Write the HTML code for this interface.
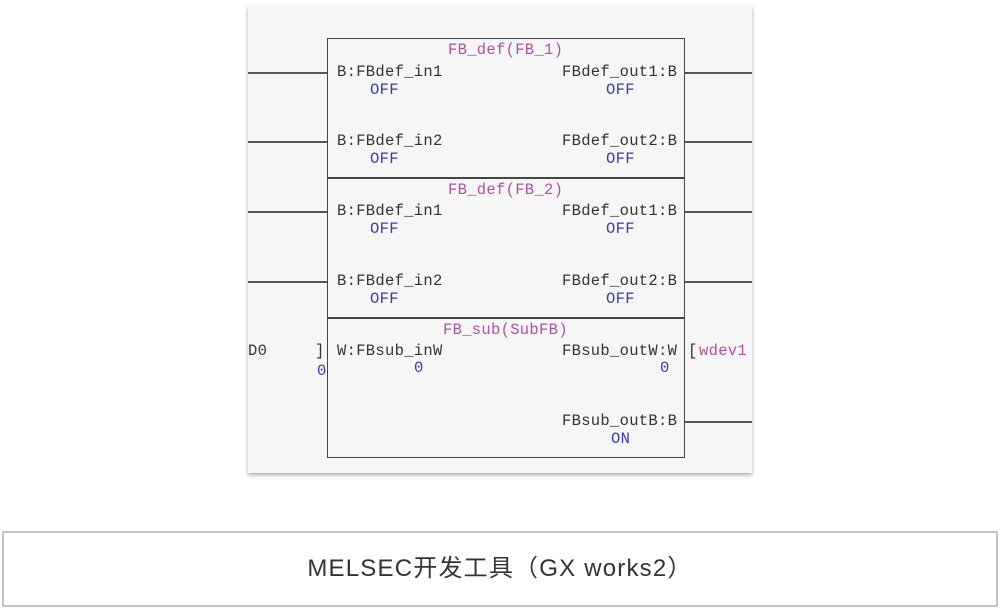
<!DOCTYPE html>
<html><head><meta charset="utf-8"><style>
body{margin:0;width:1000px;height:610px;background:#fff;position:relative;overflow:hidden;font-family:"Liberation Mono",monospace}
.p{position:absolute;left:248px;top:6px;width:504px;height:467px;background:#f6f6f6;box-shadow:0 2px 4px rgba(0,0,0,.35)}
.l{position:absolute;height:1.5px;background:#555}
.b{position:absolute;left:327px;width:358px;border:1.5px solid #444;box-sizing:border-box}
.t{position:absolute;font-size:15.5px;line-height:16px;color:#333;white-space:pre;letter-spacing:0.3px}
.m{color:#b050a0}.v{color:#3a3aa8}
.cap{position:absolute;left:2px;top:531px;width:996px;height:76px;border:2px solid #c4c4c4;box-sizing:border-box;text-align:center;line-height:72px;font-family:"Liberation Sans","Noto Sans CJK SC",sans-serif;font-size:24px;letter-spacing:1.2px;color:#333}
</style></head><body>
<div class="p"></div>
<div class="l" style="left:248px;top:72px;width:79px"></div>
<div class="l" style="left:248px;top:141px;width:79px"></div>
<div class="l" style="left:248px;top:211px;width:79px"></div>
<div class="l" style="left:248px;top:281px;width:79px"></div>
<div class="l" style="left:685px;top:72px;width:67px"></div>
<div class="l" style="left:685px;top:141px;width:67px"></div>
<div class="l" style="left:685px;top:211px;width:67px"></div>
<div class="l" style="left:685px;top:281px;width:67px"></div>
<div class="l" style="left:685px;top:421px;width:67px"></div>
<div class="b" style="top:38px;height:141px"></div>
<div class="b" style="top:177px;height:142px"></div>
<div class="b" style="top:317px;height:141px"></div>
<div class="t m" style="left:448px;top:42px">FB_def(FB_1)</div>
<div class="t" style="left:337px;top:64px">B:FBdef_in1</div>
<div class="t v" style="left:370px;top:82px">OFF</div>
<div class="t" style="left:562px;top:64px">FBdef_out1:B</div>
<div class="t v" style="left:606px;top:82px">OFF</div>
<div class="t" style="left:337px;top:133px">B:FBdef_in2</div>
<div class="t v" style="left:370px;top:151px">OFF</div>
<div class="t" style="left:562px;top:133px">FBdef_out2:B</div>
<div class="t v" style="left:606px;top:151px">OFF</div>
<div class="t m" style="left:448px;top:182px">FB_def(FB_2)</div>
<div class="t" style="left:337px;top:203px">B:FBdef_in1</div>
<div class="t v" style="left:370px;top:221px">OFF</div>
<div class="t" style="left:562px;top:203px">FBdef_out1:B</div>
<div class="t v" style="left:606px;top:221px">OFF</div>
<div class="t" style="left:337px;top:273px">B:FBdef_in2</div>
<div class="t v" style="left:370px;top:291px">OFF</div>
<div class="t" style="left:562px;top:273px">FBdef_out2:B</div>
<div class="t v" style="left:606px;top:291px">OFF</div>
<div class="t m" style="left:443px;top:322px">FB_sub(SubFB)</div>
<div class="t" style="left:248px;top:343px">D0</div>
<div class="t" style="left:315px;top:343px">]</div>
<div class="t v" style="left:317px;top:363px">0</div>
<div class="t" style="left:337px;top:343px">W:FBsub_inW</div>
<div class="t v" style="left:414px;top:360px">0</div>
<div class="t" style="left:562px;top:343px">FBsub_outW:W</div>
<div class="t v" style="left:660px;top:360px">0</div>
<div class="t" style="left:688px;top:343px">[</div>
<div class="t m" style="left:699px;top:343px">wdev1</div>
<div class="t" style="left:562px;top:413px">FBsub_outB:B</div>
<div class="t v" style="left:611px;top:431px">ON</div>
<div class="cap">MELSEC开发工具（GX works2）</div>
</body></html>
